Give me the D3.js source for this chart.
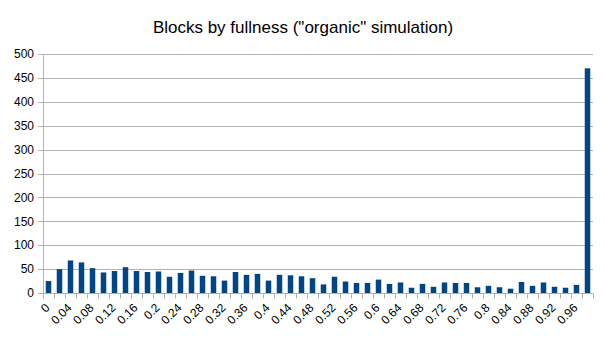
<!DOCTYPE html>
<html>
<head>
<meta charset="utf-8">
<script src="https://cdn.jsdelivr.net/npm/d3@7"></script>
<style>
  body { margin: 0; background: #fff; }
  text { font-family: "Liberation Sans", Arial, sans-serif; fill: #000; }
</style>
</head>
<body>
<script>
var width = 605,
    height = 340;

// fullness buckets 0, 0.02, ... 0.98
var categories = ["0","0.02","0.04","0.06","0.08","0.1","0.12","0.14","0.16","0.18",
  "0.2","0.22","0.24","0.26","0.28","0.3","0.32","0.34","0.36","0.38",
  "0.4","0.42","0.44","0.46","0.48","0.5","0.52","0.54","0.56","0.58",
  "0.6","0.62","0.64","0.66","0.68","0.7","0.72","0.74","0.76","0.78",
  "0.8","0.82","0.84","0.86","0.88","0.9","0.92","0.94","0.96","0.98"];
var counts = [25, 50, 68, 64, 52, 43, 46, 54, 46, 44,
  45, 34, 42, 47, 36, 35, 26, 44, 38, 40,
  26, 38, 37, 35, 31, 18, 34, 24, 21, 21,
  28, 19, 22, 11, 19, 13, 22, 21, 21, 12,
  15, 12, 9, 23, 15, 22, 13, 11, 17, 470];
var yTicks = [0, 50, 100, 150, 200, 250, 300, 350, 400, 450, 500];
var title = 'Blocks by fullness ("organic" simulation)';

var margin = {top: 54, left: 43, right: 12, bottom: 47};

var svg = d3.select("body").append("svg").attr("width", width).attr("height", height);

var x = d3.scaleBand().domain(categories)
    .range([margin.left, width - margin.right])
    .paddingInner(0.5).paddingOuter(0.25);
var y = d3.scaleLinear().domain([0, 500])
    .range([height - margin.bottom, margin.top]);

// title
svg.append("text")
    .attr("x", 303).attr("y", 33)
    .attr("text-anchor", "middle")
    .style("font-size", "17px")
    .text(title);

// gridlines
svg.append("g").selectAll("line")
    .data(yTicks)
  .enter().append("line")
    .attr("x1", margin.left - 5).attr("x2", width - margin.right)
    .attr("y1", function(d){ return Math.round(y(d)) + 0.5; })
    .attr("y2", function(d){ return Math.round(y(d)) + 0.5; })
    .attr("stroke", "#b3b3b3");

// y labels
svg.append("g").selectAll("text")
    .data(yTicks)
  .enter().append("text")
    .attr("x", 34)
    .attr("y", function(d){ return y(d); })
    .attr("dy", "0.35em")
    .attr("text-anchor", "end")
    .style("font-size", "12px")
    .text(function(d){ return d; });

// bars
svg.append("g").selectAll("rect")
    .data(counts)
  .enter().append("rect")
    .attr("x", function(d, i){ return x(categories[i]); })
    .attr("width", x.bandwidth())
    .attr("y", function(d){ return y(d); })
    .attr("height", function(d){ return y(0) - y(d); })
    .attr("fill", "#004586");

// axis line
var step = x.step();
var x0 = margin.left, base = Math.round(y(0)) + 0.5;
svg.append("line")
    .attr("x1", x0 + 0.5).attr("x2", x0 + 0.5)
    .attr("y1", margin.top).attr("y2", base + 5)
    .attr("stroke", "#b3b3b3");

// x tick marks at category boundaries
svg.append("g").selectAll("line")
    .data(d3.range(categories.length + 1))
  .enter().append("line")
    .attr("x1", function(i){ return Math.round(x0 + i * step) + 0.5; })
    .attr("x2", function(i){ return Math.round(x0 + i * step) + 0.5; })
    .attr("y1", base).attr("y2", base + 5)
    .attr("stroke", "#b3b3b3");

// x labels, every other one
svg.append("g").selectAll("text")
    .data(categories.filter(function(d, i){ return i % 2 === 0; }))
  .enter().append("text")
    .attr("transform", function(d){
      var cx = x(d) + x.bandwidth() / 2 - 1;
      return "translate(" + cx + "," + (base + 12) + ") rotate(-45)";
    })
    .attr("text-anchor", "end")
    .attr("dy", "0.35em")
    .style("font-size", "12px")
    .text(function(d){ return d; });
</script>
</body>
</html>
